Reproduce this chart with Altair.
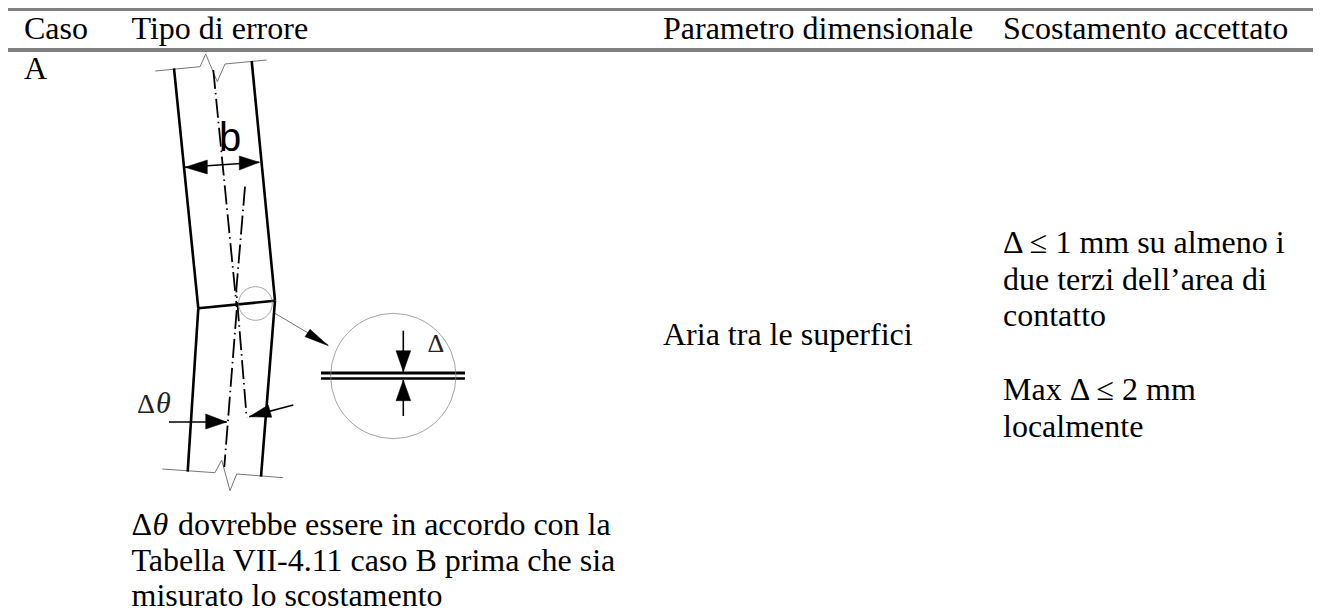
import altair as alt
import pandas as pd

# ---- table text (label, x, baseline y) in page pixels ----
rule_y = [9, 50]
texts_serif = [
    ("Caso", 24, 39.3), ("Tipo di errore", 131.5, 39.3),
    ("Parametro dimensionale", 663, 39.3), ("Scostamento accettato", 1003, 39.3),
    ("A", 24, 79),
    ("Aria tra le superfici", 663, 345),
    ("Δ ≤ 1 mm su almeno i", 1003, 253),
    ("due terzi dell’area di", 1003, 290),
    ("contatto", 1003, 326),
    ("Max Δ ≤ 2 mm", 1003, 400),
    ("localmente", 1003, 436.5),
    ("Δ", 131.5, 535),
    ("dovrebbe essere in accordo con la", 178, 535),
    ("Tabella VII-4.11 caso B prima che sia", 131.5, 571),
    ("misurato lo scostamento", 131.5, 606),
]
theta_caption = [("θ", 152.5, 535)]
delta_labels = [("Δ", 427.5, 351.7)]
dtheta_delta = [("Δ", 137, 412.7)]
dtheta_theta = [("θ", 156, 412.7)]
b_label = [("b", 219, 150.7)]

# ---- drawing polylines ----
black_lines = {
    "wall_ul": [(174, 68.3), (198.3, 308.3)],
    "wall_ur": [(251.7, 61), (275, 300.7)],
    "joint": [(198.3, 308.3), (275, 300.7)],
    "wall_ll": [(198.3, 308.3), (187.7, 471.7)],
    "wall_lr": [(275, 300.7), (261, 476.7)],
}
thin_black = {
    "dim_b": [(185, 167.3), (259.3, 162.3)],
    "dv_top": [(403.3, 330.7), (403.3, 371.7)],
    "dv_bot": [(403.3, 380), (403.3, 416)],
    "left_arrow": [(169, 422), (226.7, 422)],
    "right_arrow": [(293.3, 405), (249.3, 416.7)],
}
double_top = [(321, 373), (465, 373)]
double_bot = [(321, 378.5), (465, 378.5)]
gray_lines = {
    "break_top": [(155.3, 71), (200, 66.7), (205.7, 54), (217.3, 81.7), (225, 64), (266.7, 60)],
    "break_bot": [(162.3, 469), (215, 472.7), (221.7, 460), (230, 490.7), (236.7, 474), (283.3, 477.7)],
    "leader": [(275, 313.3), (328.3, 345)],
}
center_lines = {
    "c1": [(213.3, 70), (236.7, 307)],
    "c2": [(236.7, 310), (224.3, 467)],
    "c3": [(245, 186.7), (236.3, 290), (246.7, 418)],
}
arrow_heads = {
    "b_l": [(185, 167.3), (207.3, 160), (207.3, 174)],
    "b_r": [(259.3, 162.3), (239.3, 156), (239.3, 170)],
    "d_t": [(403.3, 371.7), (396, 350.7), (410.7, 350.7)],
    "d_b": [(403.3, 380), (396, 400.7), (410.7, 400.7)],
    "leader": [(328.3, 345.7), (305, 336.7), (310, 329.3)],
    "left": [(226.7, 422), (205.7, 414), (205.7, 429)],
    "right": [(249.3, 416.7), (268.3, 405), (271.7, 417.3)],
}
circles = {"big": (393.3, 376), "small": (255.5, 303.5)}

W, H = 1305, 604
xs = alt.Scale(domain=[8, 8 + W], range=[0, W], nice=False, zero=False)
ys = alt.Scale(domain=[8, 8 + H], range=[0, H], nice=False, zero=False)
X = alt.X("x:Q", scale=xs, axis=None)
Y = alt.Y("y:Q", scale=ys, axis=None)


def frame(d):
    rows = []
    for k, pts in d.items():
        for i, (x, y) in enumerate(pts):
            rows.append({"k": k, "i": i, "x": x, "y": y})
    return pd.DataFrame(rows)


def lines(d, **kw):
    return alt.Chart(frame(d)).mark_line(**kw).encode(
        x=X, y=Y, detail="k:N", order="i:Q")


def label(rows, **kw):
    df = pd.DataFrame(rows, columns=["t", "x", "y"])
    return alt.Chart(df).mark_text(align="left", baseline="alphabetic", **kw).encode(
        x=X, y=Y, text="t:N")


rules = alt.Chart(pd.DataFrame({"y": rule_y, "a": [8] * 2, "b": [8 + W] * 2})).mark_rule(
    color="#808080", strokeWidth=4).encode(
    x=alt.X("a:Q", scale=xs, axis=None), x2="b:Q", y=Y)

layers = [
    rules,
    lines(gray_lines, color="#777777", strokeWidth=1),
    lines(black_lines, color="black", strokeWidth=2.6),
    lines(thin_black, color="black", strokeWidth=1.6),
    lines({"a": double_top}, color="black", strokeWidth=3),
    lines({"a": double_bot}, color="black", strokeWidth=2.6),
    lines(center_lines, color="black", strokeWidth=1.8, strokeDash=[19, 4, 1.5, 4.5]),
    lines(arrow_heads, color="black", fill="black", strokeWidth=0.5, interpolate="linear-closed"),
    alt.Chart(pd.DataFrame([{"x": circles["big"][0], "y": circles["big"][1]}])).mark_point(
        shape="circle", size=15700, color="#808080", strokeWidth=1, filled=False).encode(x=X, y=Y),
    alt.Chart(pd.DataFrame([{"x": circles["small"][0], "y": circles["small"][1]}])).mark_point(
        shape="circle", size=1134, color="#808080", strokeWidth=1, filled=False).encode(x=X, y=Y),
    label(texts_serif, font="Liberation Serif", fontSize=32, color="black"),
    label(theta_caption, font="Liberation Serif", fontSize=32, fontStyle="italic", color="black"),
    label(delta_labels, font="Liberation Serif", fontSize=26, color="#222222"),
    label(dtheta_delta, font="Liberation Serif", fontSize=28, color="#222222"),
    label(dtheta_theta, font="Liberation Serif", fontSize=30, fontStyle="italic", color="#222222"),
    label(b_label, font="Liberation Sans", fontSize=40, color="black"),
]

chart = alt.layer(*layers).properties(
    width=W, height=H, padding=0, autosize=alt.AutoSizeParams(type="none"),
    background="white",
).configure_view(stroke=None)

chart.save("out.html", embed_options={"renderer": "svg", "actions": False})
